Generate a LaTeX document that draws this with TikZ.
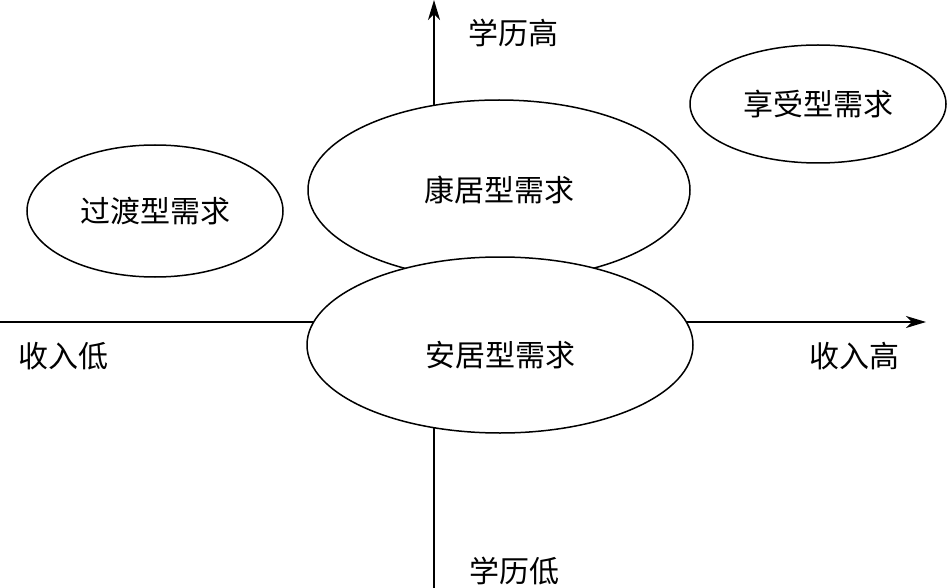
\documentclass[tikz,border=0pt]{standalone}
\usepackage{fontspec}
\newfontfamily\cjk{Noto Sans CJK SC}
\usetikzlibrary{shapes.geometric,arrows.meta}
\begin{document}
\begin{tikzpicture}[x=1pt,y=-1pt,
  axis/.style={line width=1.5pt,-{Stealth[length=20pt,width=12pt,inset=6pt]}},
  region/.style={ellipse,draw,line width=1.5pt,fill=white,inner sep=0pt,font=\cjk\fontsize{30}{32}\selectfont},
  lab/.style={font=\cjk\fontsize{30}{32}\selectfont,inner sep=0pt}]
\useasboundingbox (0,0) rectangle (947,588);
% axes
\coordinate (xl) at (0,322);
\coordinate (xr) at (926,322);
\coordinate (yb) at (434,588);
\coordinate (yt) at (434,0);
\draw[axis] (xl) -- (xr);
\draw[axis] (yb) -- (yt);
% regions
\node[region,minimum width=256pt,minimum height=118pt] (xiangshou) at (818,104) {享受型需求};
\node[region,minimum width=256pt,minimum height=132pt] (guodu) at (155,211) {过渡型需求};
\node[region,minimum width=382pt,minimum height=180pt] (kangju) at (499,190) {康居型需求};
\node[region,minimum width=386pt,minimum height=176pt] (anju) at (500,345) {\raisebox{-10pt}[\height][\depth]{安居型需求}};
% axis labels
\node[lab] (xueligao) at (513,33) {学历高};
\node[lab] (xuelidi) at (514,571) {学历低};
\node[lab] (shourugao) at (854,356) {收入高};
\node[lab] (shourudi) at (63,356) {收入低};
\end{tikzpicture}
\end{document}
